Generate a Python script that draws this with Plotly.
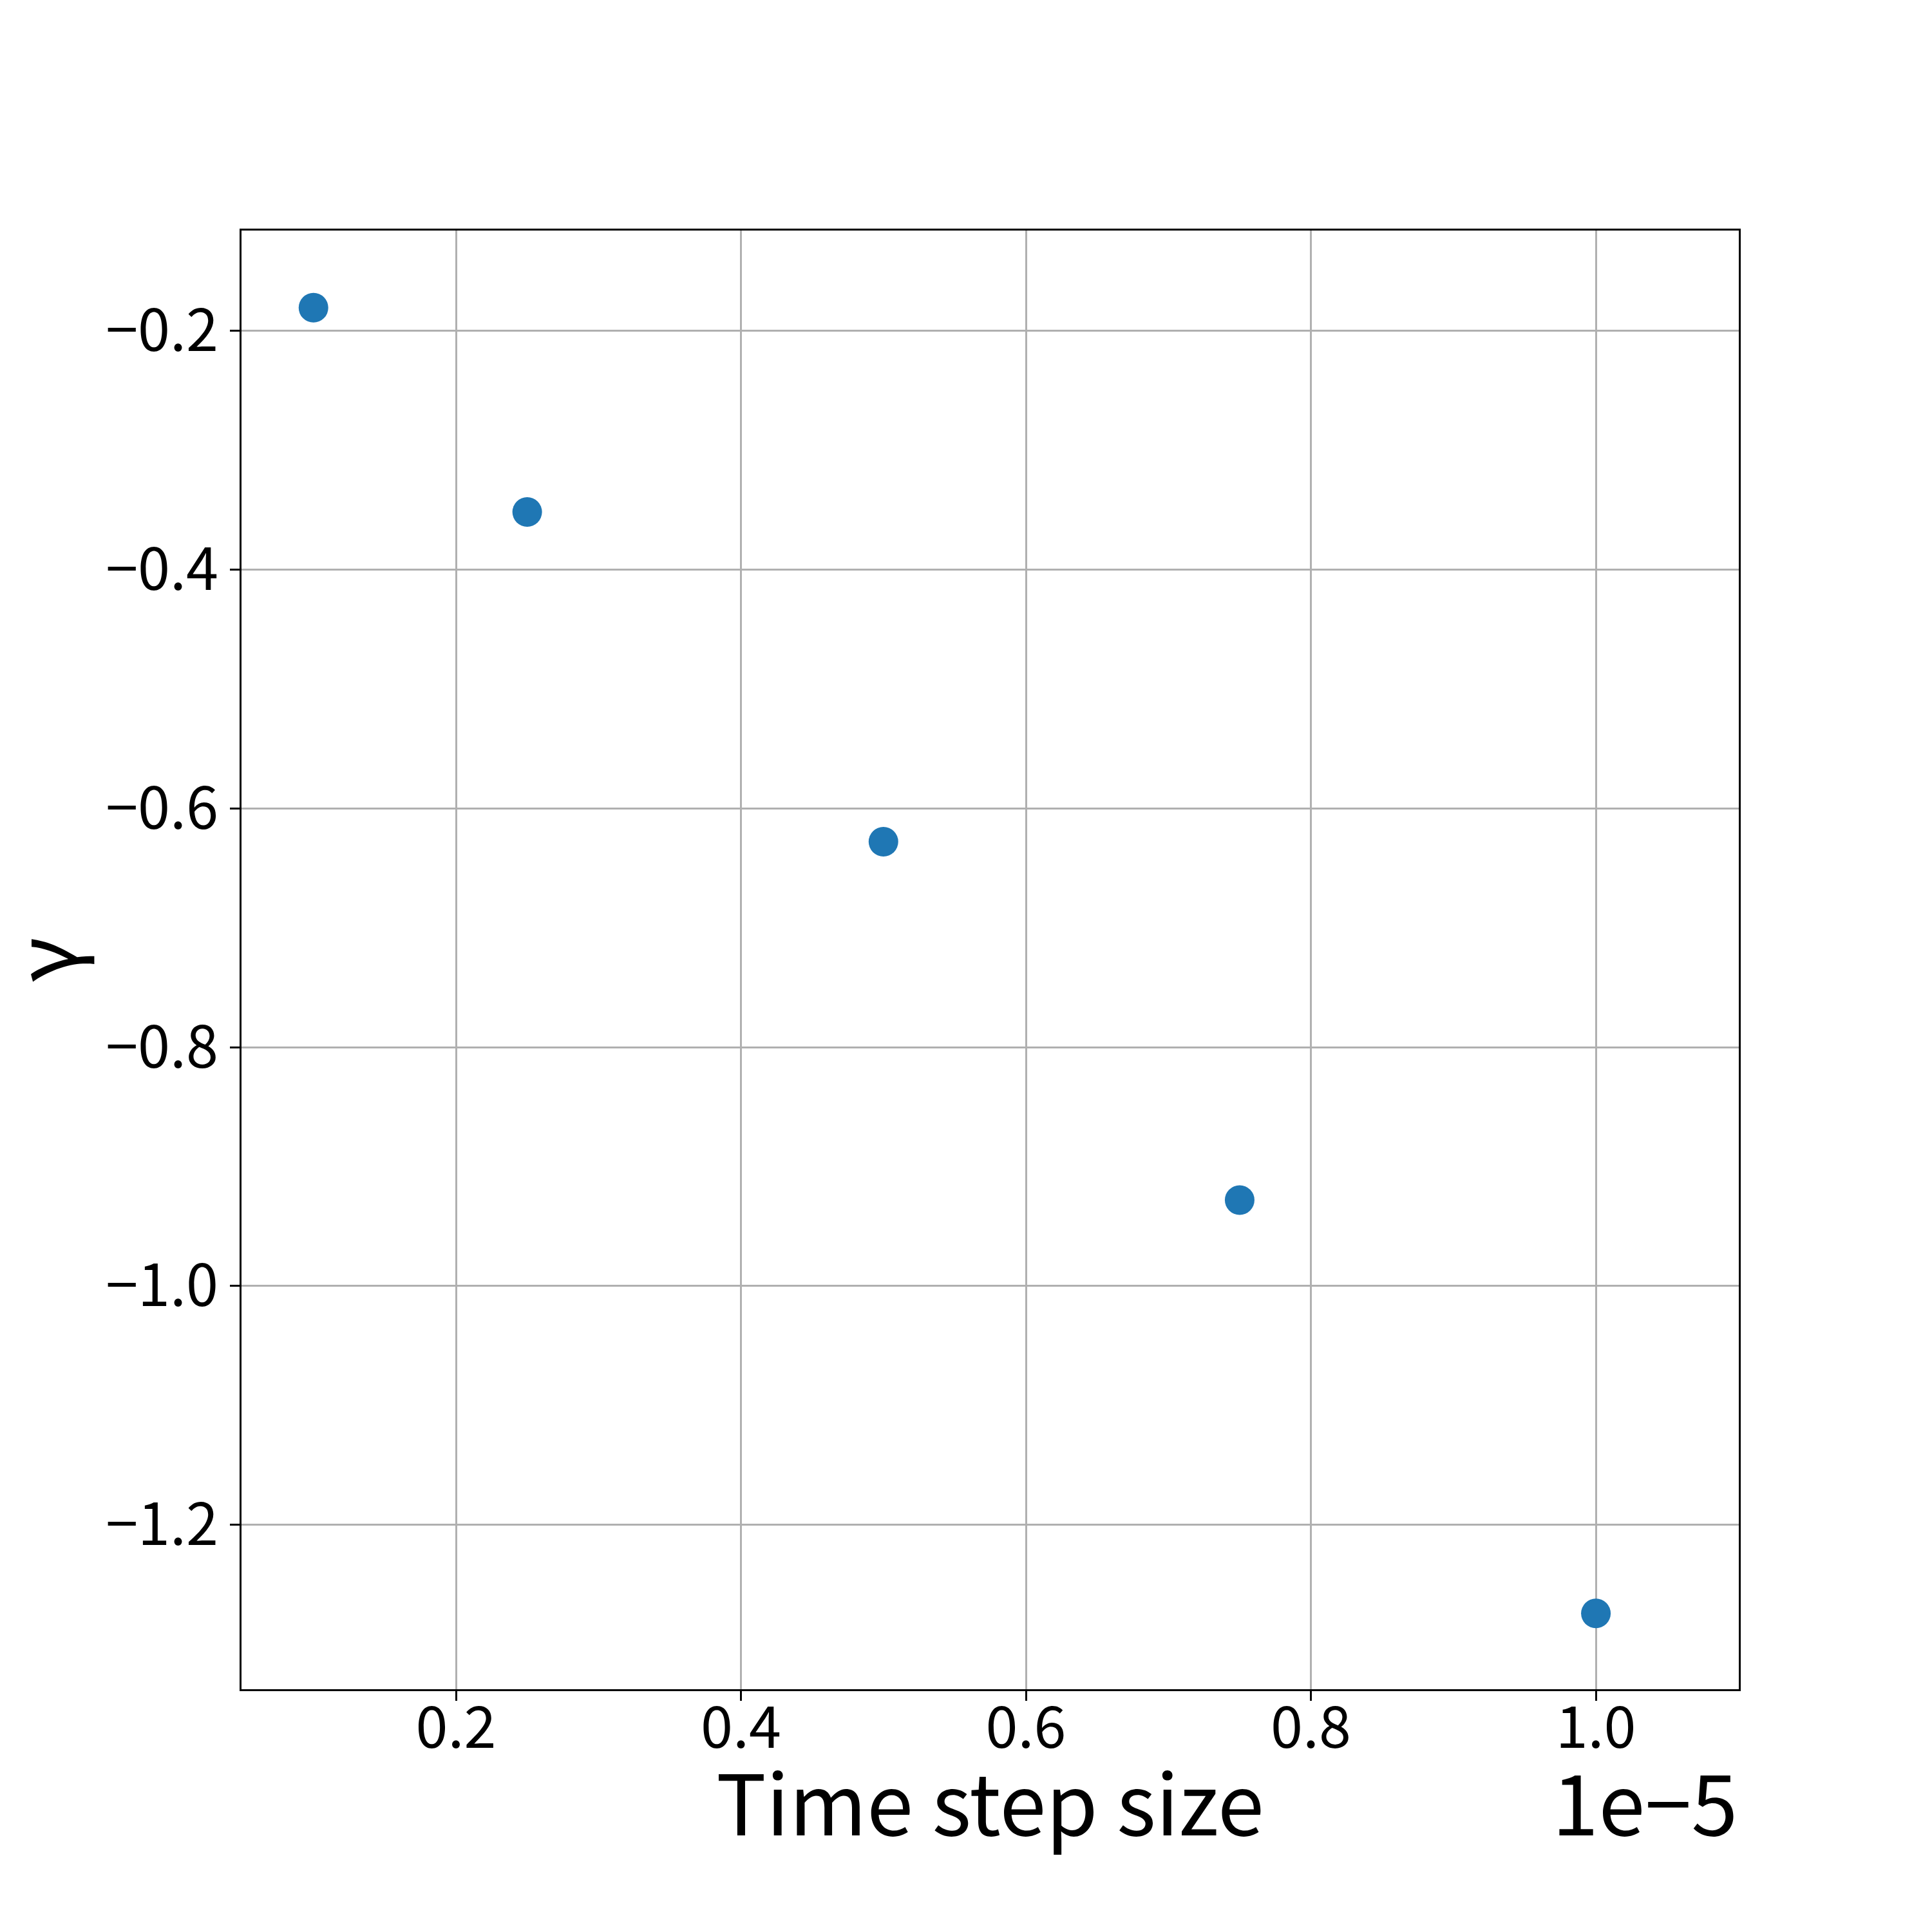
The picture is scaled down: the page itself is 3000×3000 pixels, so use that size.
import plotly.graph_objects as go

# time step sizes (s) and measured gamma
time_step = [1.0e-6, 2.5e-6, 5.0e-6, 7.5e-6, 1.0e-5]
gamma = [-0.181, -0.352, -0.628, -0.928, -1.274]
x_ticks = [0.2, 0.4, 0.6, 0.8, 1.0]
y_ticks = [-1.2, -1.0, -0.8, -0.6, -0.4, -0.2]

FONT = "Noto Sans CJK JP"
BLUE = "#1f77b4"
GRID = "#b0b0b0"

x_scaled = [t * 1e5 for t in time_step]

fig = go.Figure(
    go.Scatter(
        x=x_scaled,
        y=gamma,
        mode="markers",
        marker=dict(color=BLUE, size=46, line=dict(width=0)),
        showlegend=False,
    )
)

axis_common = dict(
    showline=True,
    linecolor="black",
    linewidth=3,
    mirror=True,
    showgrid=True,
    gridcolor=GRID,
    gridwidth=3,
    zeroline=False,
    ticks="outside",
    ticklen=15,
    tickwidth=3,
    tickcolor="black",
    tickfont=dict(family=FONT, size=90, color="black"),
    tickformat=".1f",
    layer="above traces",
    automargin=False,
)

fig.update_xaxes(range=[0.0495, 1.1003], tickvals=x_ticks, ticklabelstandoff=-35, **axis_common)
fig.update_yaxes(range=[-1.3375, -0.1164], tickvals=y_ticks, **axis_common)

# axis labels and offset text
fig.add_annotation(
    text="γ", xref="paper", yref="paper", x=-0.1346, y=0.5, xanchor="center", yanchor="middle",
    textangle=-90, showarrow=False, font=dict(family=FONT, size=130, color="black"),
)
for txt, xpos, anchor in [("Time step size", 0.5, "center"), ("1e−5", 1.0, "right")]:
    fig.add_annotation(
        text=txt,
        xref="paper",
        yref="paper",
        x=xpos,
        y=-0.0327,
        xanchor=anchor,
        yanchor="top",
        showarrow=False,
        font=dict(family=FONT, size=130, color="black"),
    )

fig.update_layout(
    width=3000,
    height=3000,
    margin=dict(l=367, r=308, t=350, b=385),
    paper_bgcolor="white",
    plot_bgcolor="white",
    font=dict(family=FONT, color="black"),
)

fig.write_html("out.html")
